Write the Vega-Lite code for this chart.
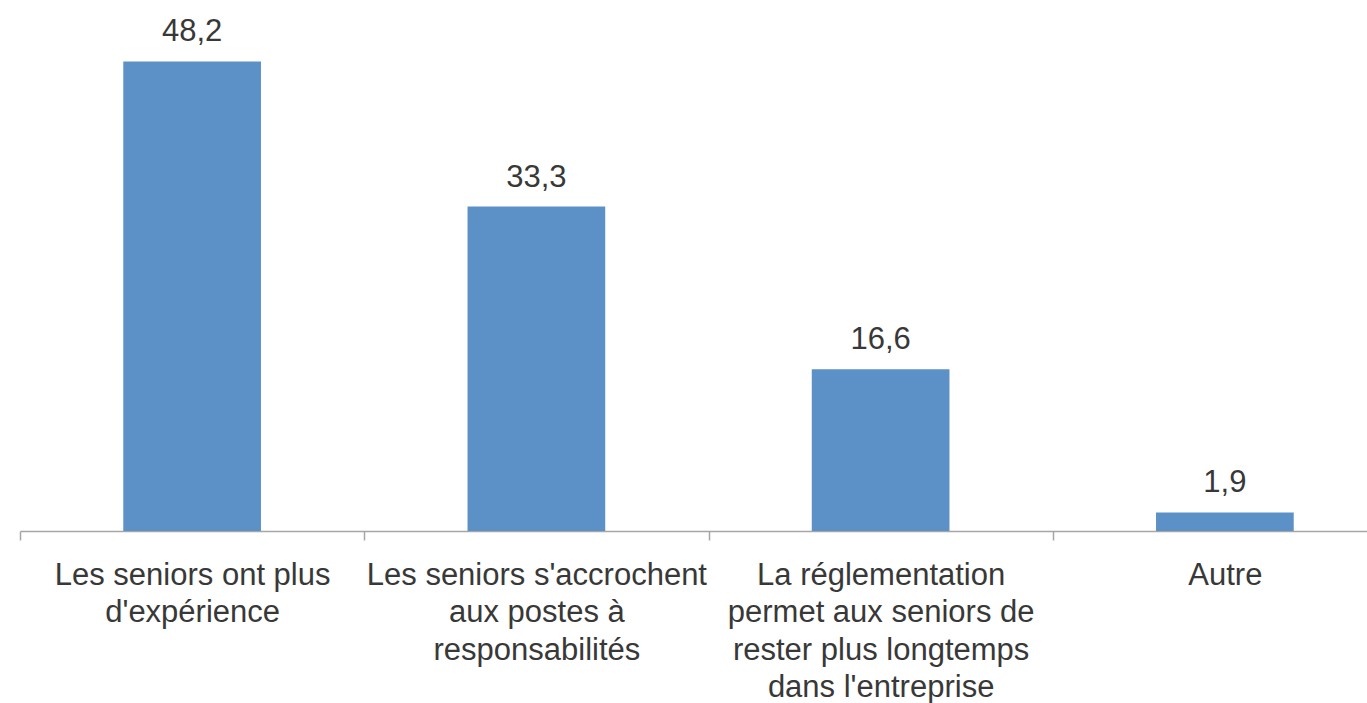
{
  "$schema": "https://vega.github.io/schema/vega-lite/v6.json",
  "autosize": {"type": "none"},
  "padding": {"left": 20, "top": 0, "right": 0, "bottom": 172},
  "width": 1377,
  "height": 531,
  "background": "white",
  "config": {
    "view": {"stroke": null},
    "locale": {"number": {"decimal": ",", "thousands": " ", "grouping": [3], "currency": ["", " €"]}},
    "font": "Liberation Sans"
  },
  "data": {
    "values": [
      {"reason": "Les seniors ont plus d'expérience", "value": 48.2},
      {"reason": "Les seniors s'accrochent aux postes à responsabilités", "value": 33.3},
      {"reason": "La réglementation permet aux seniors de rester plus longtemps dans l'entreprise", "value": 16.6},
      {"reason": "Autre", "value": 1.9}
    ]
  },
  "encoding": {
    "x": {
      "field": "reason",
      "type": "nominal",
      "sort": null,
      "scale": {"paddingInner": 0, "paddingOuter": 0},
      "axis": {
        "title": null,
        "labelAngle": 0,
        "tickBand": "extent",
        "domainColor": "#a6a6a6",
        "domainWidth": 1.5,
        "tickColor": "#a6a6a6",
        "tickWidth": 1.5,
        "tickSize": 9,
        "labelPadding": 20,
        "labelFont": "Liberation Sans",
        "labelFontSize": 31,
        "labelColor": "#383838",
        "labelLineHeight": 37.5,
        "labelLimit": 0,
        "labelOverlap": false,
        "labelExpr": "datum.value == \"Les seniors ont plus d'expérience\" ? [\"Les seniors ont plus\", \"d'expérience\"] : datum.value == \"Les seniors s'accrochent aux postes à responsabilités\" ? [\"Les seniors s'accrochent\", \"aux postes à\", \"responsabilités\"] : datum.value == \"Autre\" ? \"Autre\" : datum.value == \"La réglementation permet aux seniors de rester plus longtemps dans l'entreprise\" ? [\"La réglementation\", \"permet aux seniors de\", \"rester plus longtemps\", \"dans l'entreprise\"] : \"\""
      }
    },
    "y": {
      "field": "value",
      "type": "quantitative",
      "scale": {"domain": [0, 54.5], "nice": false},
      "axis": null
    }
  },
  "layer": [
    {
      "mark": {"type": "bar", "color": "#5b91c6", "width": {"band": 0.4}}
    },
    {
      "mark": {"type": "text", "dy": -20, "baseline": "alphabetic", "align": "center", "fontSize": 31, "color": "#383838", "font": "Liberation Sans"},
      "encoding": {"text": {"field": "value", "type": "quantitative", "format": ".1f"}}
    }
  ]
}
